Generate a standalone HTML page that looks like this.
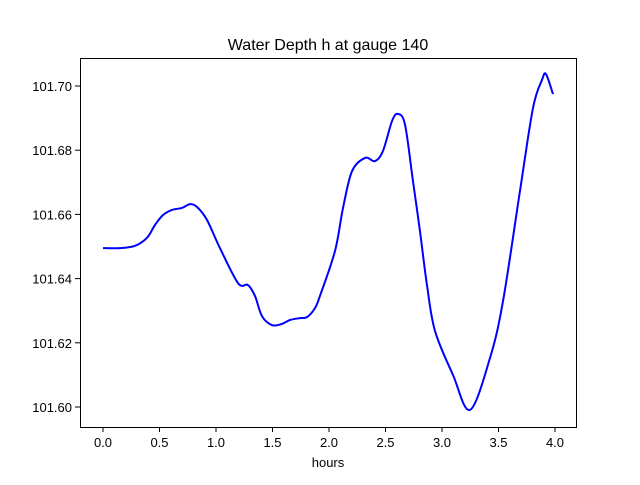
<!DOCTYPE html>
<html><head><meta charset="utf-8"><style>body{margin:0;background:#fff}svg text{font-family:"Liberation Sans","DejaVu Sans",sans-serif}</style></head>
<body>
<svg id="chart" width="640" height="480" xmlns="http://www.w3.org/2000/svg">
<rect width="640" height="480" fill="#fff"/>
<text x="328" y="50" text-anchor="middle" font-size="16">Water Depth h at gauge 140</text>
<text x="328" y="467" text-anchor="middle" font-size="13">hours</text>
<g id="ticks"></g>
<path id="line" fill="none" stroke="#0000ff" stroke-width="2"/>
<rect x="80.5" y="58.5" width="496" height="369" fill="none" stroke="#000" stroke-width="1"/>
</svg>
<script>
const hours=[0,0.15,0.283,0.389,0.46,0.531,0.611,0.699,0.77,0.832,0.92,1.035,1.195,1.283,1.345,1.407,1.496,1.584,1.655,1.743,1.805,1.876,1.92,2.053,2.124,2.204,2.319,2.407,2.478,2.558,2.611,2.673,2.743,2.805,2.867,2.938,3.097,3.248,3.425,3.54,3.69,3.805,3.885,3.92,3.982];
const depth=[101.6495,101.6495,101.6502,101.6527,101.6567,101.6598,101.6614,101.662,101.6632,101.6623,101.6583,101.6495,101.6386,101.638,101.6346,101.6283,101.6255,101.6259,101.6271,101.6277,101.628,101.6308,101.6346,101.6486,101.662,101.6735,101.6776,101.6766,101.6798,101.6891,101.6913,101.6879,101.6704,101.6548,101.638,101.6237,101.61,101.5991,101.6153,101.633,101.6673,101.6931,101.7019,101.7037,101.6975];
const xTicks=[0,0.5,1,1.5,2,2.5,3,3.5,4];
const yTicks=[101.60,101.62,101.64,101.66,101.68,101.70];
const X=v=>103+v*113;
const Y=v=>86+(101.70-v)*3210;
const NS="http://www.w3.org/2000/svg";
const g=document.getElementById('ticks');
xTicks.forEach(t=>{
  const l=document.createElementNS(NS,'line');
  l.setAttribute('x1',X(t));l.setAttribute('x2',X(t));l.setAttribute('y1',427);l.setAttribute('y2',432);l.setAttribute('stroke','#000');
  
  
  g.appendChild(l);
  const tx=document.createElementNS(NS,'text');
  tx.setAttribute('x',X(t));tx.setAttribute('y',447);tx.setAttribute('text-anchor','middle');tx.setAttribute('font-size','13');
  tx.textContent=t.toFixed(1);
  
  
  g.appendChild(tx);
});
yTicks.forEach(t=>{
  const l=document.createElementNS(NS,'line');
  l.setAttribute('x1',75);l.setAttribute('x2',80);l.setAttribute('y1',Y(t));l.setAttribute('y2',Y(t));l.setAttribute('stroke','#000');
  
  
  g.appendChild(l);
  const tx=document.createElementNS(NS,'text');
  tx.setAttribute('x',72);tx.setAttribute('y',Y(t)+5);tx.setAttribute('text-anchor','end');tx.setAttribute('font-size','13');
  tx.textContent=t.toFixed(2);
  
  
  g.appendChild(tx);
});
const pts=hours.map((h,i)=>[X(h),Y(depth[i])]);
let d='M'+pts[0][0]+','+pts[0][1];
for(let i=0;i<pts.length-1;i++){
  const p0=pts[Math.max(0,i-1)],p1=pts[i],p2=pts[i+1],p3=pts[Math.min(pts.length-1,i+2)];
  const c1=[p1[0]+(p2[0]-p0[0])/6,p1[1]+(p2[1]-p0[1])/6];
  const c2=[p2[0]-(p3[0]-p1[0])/6,p2[1]-(p3[1]-p1[1])/6];
  d+=` C${c1[0]},${c1[1]} ${c2[0]},${c2[1]} ${p2[0]},${p2[1]}`;
}
document.getElementById('line').setAttribute('d',d);
</script>
</body></html>
